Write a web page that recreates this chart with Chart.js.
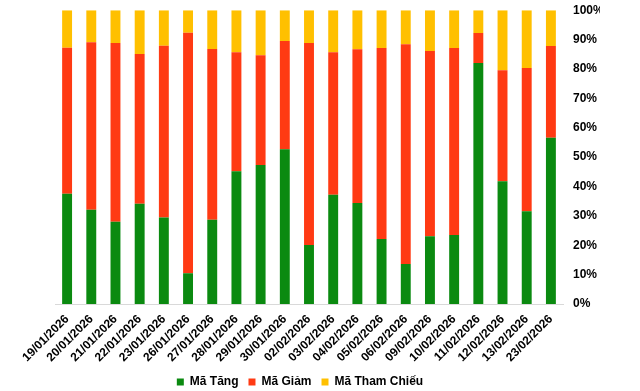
<!DOCTYPE html>
<html>
<head>
<meta charset="utf-8">
<script src="https://cdn.jsdelivr.net/npm/chart.js@4.4.1/dist/chart.umd.min.js"></script>
<style>
  html, body { margin: 0; padding: 0; background: #fff; }
  #wrap { width: 640px; height: 391px; }
</style>
</head>
<body>
<div id="wrap"><canvas id="chart-ma"></canvas></div>
<script>
// ngay giao dich
const labels = [
  '19/01/2026', '20/01/2026', '21/01/2026', '22/01/2026', '23/01/2026',
  '26/01/2026', '27/01/2026', '28/01/2026', '29/01/2026', '30/01/2026',
  '02/02/2026', '03/02/2026', '04/02/2026', '05/02/2026', '06/02/2026',
  '09/02/2026', '10/02/2026', '11/02/2026', '12/02/2026', '13/02/2026',
  '23/02/2026'
];

// ty le (%) moi nhom ma
const maTang = [37.5, 32.1, 28.0, 34.1, 29.4, 10.5, 28.7, 45.2, 47.3, 52.7, 20.1, 37.2, 34.4, 22.1, 13.6, 23.1, 23.5, 82.0, 41.8, 31.6, 56.6];
const maGiam = [49.7, 57.0, 60.8, 51.0, 58.5, 81.8, 58.1, 40.5, 37.4, 36.8, 68.7, 48.5, 52.3, 65.0, 74.8, 63.0, 63.6, 10.2, 37.8, 48.7, 31.2];
const maThamChieu = [12.8, 10.9, 11.2, 14.9, 12.1, 7.7, 13.2, 14.3, 15.3, 10.5, 11.2, 14.3, 13.3, 12.9, 11.6, 13.9, 12.9, 7.8, 20.4, 19.7, 12.2];

const yTicks = [0, 10, 20, 30, 40, 50, 60, 70, 80, 90, 100];

const fontBold = { family: 'Liberation Sans, Arial, sans-serif', size: 12, weight: 'bold' };

const data = {
  labels: labels,
  datasets: [
    { label: 'Mã Tăng', data: maTang, backgroundColor: '#0b8a10' },
    { label: 'Mã Giảm', data: maGiam, backgroundColor: '#ff3a13' },
    { label: 'Mã Tham Chiếu', data: maThamChieu, backgroundColor: '#ffc000' }
  ]
};

const config = {
  type: 'bar',
  data: data,
  options: {
    responsive: true,
    maintainAspectRatio: false,
    animation: false,
    datasets: { bar: { categoryPercentage: 1, barPercentage: 0.41 } },
    layout: { padding: { top: 0, right: 40, left: 0, bottom: -7 } },
    plugins: {
      legend: {
        position: 'bottom',
        labels: {
          boxWidth: 7,
          boxHeight: 7,
          padding: 10,
          color: '#000',
          font: { family: 'Liberation Sans, Arial, sans-serif', size: 12, weight: 'bold' }
        }
      },
      tooltip: { enabled: false }
    },
    scales: {
      x: {
        stacked: true,
        afterFit: (scale) => { scale.height = 62; },
        grid: { display: false, drawTicks: false },
        border: { display: true, color: '#d9d9d9', width: 1 },
        ticks: {
          minRotation: 45,
          maxRotation: 45,
          autoSkip: false,
          padding: 8,
          color: '#000',
          font: fontBold
        }
      },
      y: {
        stacked: true,
        position: 'right',
        min: 0,
        max: 100,
        afterBuildTicks: (scale) => { scale.ticks = yTicks.map(v => ({ value: v })); },
        afterFit: (scale) => { scale.width = 37; },
        grid: { display: false, drawTicks: true, tickLength: 7 },
        border: { display: false },
        ticks: {
          padding: 3,
          color: '#000',
          font: fontBold,
          callback: (v) => v + '%'
        }
      },
      // khoang trong ben trai
      yLeft: {
        position: 'left',
        min: 0,
        max: 100,
        afterFit: (scale) => { scale.width = 55; },
        grid: { display: false, drawTicks: false },
        border: { display: false },
        ticks: { display: false }
      }
    }
  }
};

const myChart = new Chart(document.getElementById('chart-ma'), config);
</script>
</body>
</html>
